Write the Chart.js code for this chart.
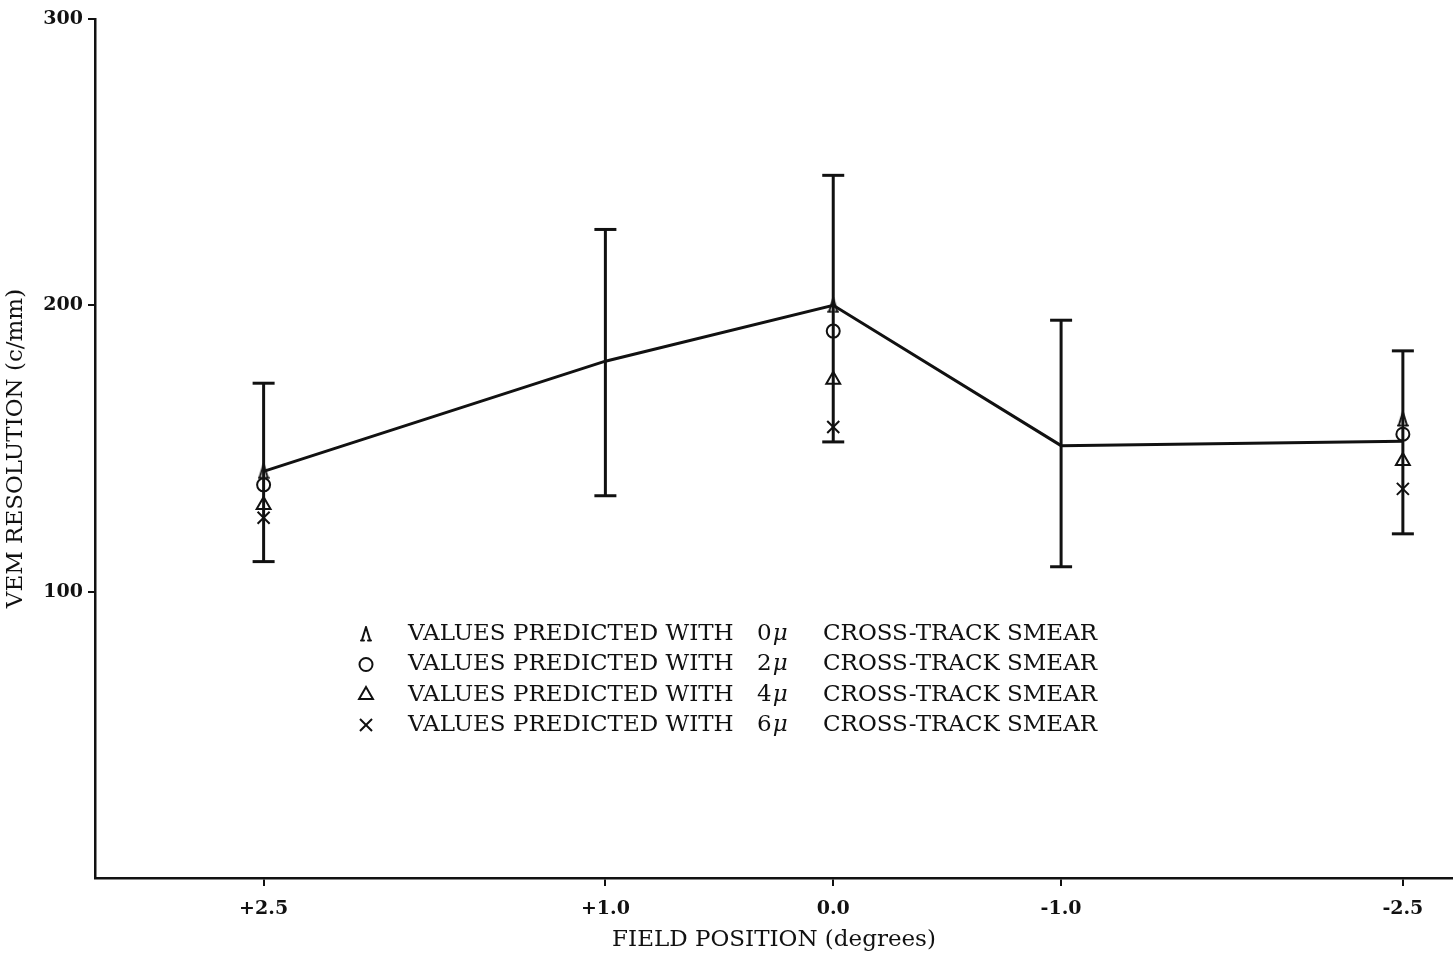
<!DOCTYPE html>
<html><head><meta charset="utf-8">
<script src="https://cdn.jsdelivr.net/npm/chart.js@4.4.1/dist/chart.umd.min.js"></script>
<style>html,body{margin:0;padding:0;background:#fff;} #wrap{width:1453px;height:956px;position:relative;background:#fff;}</style>
</head><body><div id="wrap"><canvas id="c" width="1453" height="956"></canvas></div>
<script>
// ---- data ----
const positions = [2.5, 1.0, 0.0, -1.0, -2.5];
const measured  = [142, 180.5, 200, 151, 152.5];
const errLow    = [110.5, 133.5, 152.3, 108.7, 120.2];
const errHigh   = [172.8, 226.5, 245.4, 194.8, 184.1];
const predPositions = [2.5, 0.0, -2.5];
const pred0um = [142, 200, 160.3];
const pred2um = [137.3, 191, 155];
const pred4um = [130.3, 174, 145.6];
const pred6um = [125.8, 157.5, 135.9];
const xTickValues = [2.5, 1.0, 0.0, -1.0, -2.5];
const xTickLabels = ['+2.5', '+1.0', '0.0', '-1.0', '-2.5'];
const yTickValues = [100, 200, 300];
const smearValues = ['0', '2', '4', '6'];

const INK = '#111';

// custom glyph for 0-micron marker
function makeLambda() {
  const cv = document.createElement('canvas');
  cv.width = 12; cv.height = 16;
  const g = cv.getContext('2d');
  g.strokeStyle = INK; g.lineWidth = 2; g.lineCap = 'round';
  g.beginPath();
  g.moveTo(6, 1); g.lineTo(2, 14);
  g.moveTo(6, 1); g.lineTo(10, 14);
  g.moveTo(1, 14.5); g.lineTo(4, 14.5);
  g.moveTo(8, 14.5); g.lineTo(11, 14.5);
  g.stroke();
  return cv;
}
const lambdaGlyph = makeLambda();

const markerStyles = [
  {pointStyle: lambdaGlyph, pointRadius: 7},
  {pointStyle: 'circle', pointRadius: 6.5},
  {pointStyle: 'triangle', pointRadius: 8},
  {pointStyle: 'crossRot', pointRadius: 8.5}
];
const predSeries = [pred0um, pred2um, pred4um, pred6um];

const datasets = [];
// error bars
positions.forEach((p, i) => {
  datasets.push({
    data: [{x: p, y: errLow[i]}, {x: p, y: errHigh[i]}],
    showLine: true, borderColor: INK, borderWidth: 3,
    pointStyle: 'line', pointRadius: 11, pointBorderWidth: 3,
    pointBorderColor: INK, pointBackgroundColor: INK
  });
});
// measured line
datasets.push({
  data: positions.map((p, i) => ({x: p, y: measured[i]})),
  showLine: true, borderColor: INK, borderWidth: 3, pointRadius: 0, tension: 0
});
// predicted markers
predSeries.forEach((s, k) => {
  datasets.push(Object.assign({
    data: predPositions.map((p, i) => ({x: p, y: s[i]})),
    showLine: false, borderColor: INK, pointBorderColor: INK,
    pointBackgroundColor: 'rgba(0,0,0,0)', pointBorderWidth: 2
  }, markerStyles[k]));
});

const legendPlugin = {
  id: 'smearLegend',
  afterDraw(chart) {
    const ctx = chart.ctx;
    ctx.save();
    ctx.fillStyle = INK; ctx.strokeStyle = INK;
    ctx.textBaseline = 'middle';
    const rows = [634, 664.5, 695, 725];
    smearValues.forEach((v, k) => {
      const y = rows[k];
      ctx.lineWidth = 2;
      ctx.fillStyle = 'rgba(0,0,0,0)';
      const st = markerStyles[k];
      Chart.helpers.drawPoint(ctx, {pointStyle: st.pointStyle, radius: st.pointRadius, borderWidth: 2, rotation: 0}, 366, y);
      ctx.fillStyle = INK;
      ctx.font = '23px "DejaVu Serif"';
      ctx.fillText('VALUES PREDICTED WITH', 408, y);
      ctx.fillText(v, 757, y);
      const w0 = ctx.measureText(v).width;
      ctx.font = 'italic 23px "DejaVu Serif"';
      ctx.fillText('\u03bc', 757 + w0 + 1, y);
      ctx.font = '23px "DejaVu Serif"';
      ctx.fillText('CROSS-TRACK SMEAR', 823, y);
    });
    ctx.restore();
  }
};

new Chart(document.getElementById('c'), {
  type: 'scatter',
  data: {datasets},
  plugins: [legendPlugin],
  options: {
    responsive: false, animation: false, devicePixelRatio: 1,
    layout: {autoPadding: false, padding: {top: 19, right: 0, left: 0, bottom: 0}},
    plugins: {legend: {display: false}, tooltip: {enabled: false}},
    scales: {
      x: {
        type: 'linear', reverse: true, min: -2.72, max: 3.24,
        afterBuildTicks: s => { s.ticks = xTickValues.map(v => ({value: v})); },
        afterFit: s => { s.height = 78; s.paddingLeft = 0; s.paddingRight = 0; },
        ticks: {
          autoSkip: false, maxRotation: 0, padding: 12, color: INK,
          font: {family: 'DejaVu Serif', size: 19, weight: 'bold'},
          callback: (v, i) => xTickLabels[i]
        },
        grid: {drawOnChartArea: false, drawTicks: true, tickLength: 8, color: INK, lineWidth: 2},
        border: {display: true, color: INK, width: 2.5},
        title: {display: true, text: 'FIELD POSITION (degrees)', color: INK,
          font: {family: 'DejaVu Serif', size: 23}, padding: {top: 0, bottom: 2}}
      },
      y: {
        type: 'linear', min: 0, max: 300,
        afterBuildTicks: s => { s.ticks = yTickValues.map(v => ({value: v})); },
        afterFit: s => { s.width = 95; s.paddingTop = 0; s.paddingBottom = 0; },
        ticks: {
          padding: 5, color: INK,
          font: {family: 'DejaVu Serif', size: 19, weight: 'bold'},
          callback: (v) => String(v)
        },
        grid: {drawOnChartArea: false, drawTicks: true, tickLength: 7, color: INK, lineWidth: 2},
        border: {display: true, color: INK, width: 2.5},
        title: {display: true, text: 'VEM RESOLUTION (c/mm)', color: INK,
          font: {family: 'DejaVu Serif', size: 23}, padding: {top: 2, bottom: 0}}
      }
    }
  }
});
</script>
</body></html>
